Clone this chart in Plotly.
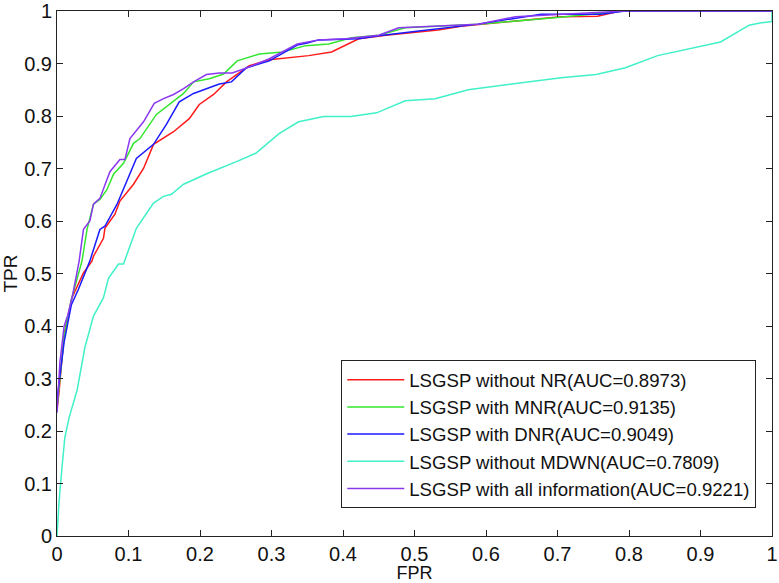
import plotly.graph_objects as go

# ---- data ----
names = [
    "LSGSP without NR(AUC=0.8973)",
    "LSGSP with MNR(AUC=0.9135)",
    "LSGSP with DNR(AUC=0.9049)",
    "LSGSP without MDWN(AUC=0.7809)",
    "LSGSP with all information(AUC=0.9221)",
]
colors = ["#ff1a1a", "#33e62e", "#1a1aff", "#40f0c8", "#8a38f0"]

fpr_nr = [0, 0.003, 0.01, 0.021, 0.037, 0.049, 0.051, 0.065, 0.067, 0.074, 0.081, 0.088,
          0.107, 0.121, 0.135, 0.163, 0.185, 0.199, 0.219, 0.237, 0.251, 0.269, 0.297,
          0.352, 0.384, 0.422, 0.460, 0.533, 0.565, 0.641, 0.705, 0.756, 0.788, 0.872, 1.0]
tpr_nr = [0.239, 0.277, 0.385, 0.454, 0.501, 0.524, 0.533, 0.567, 0.586, 0.600, 0.613, 0.638,
          0.670, 0.700, 0.746, 0.770, 0.795, 0.822, 0.841, 0.865, 0.879, 0.896, 0.907,
          0.915, 0.922, 0.947, 0.954, 0.964, 0.971, 0.981, 0.989, 0.990, 1.0, 1.0, 1.0]

fpr_mnr = [0, 0.004, 0.01, 0.02, 0.028, 0.035, 0.042, 0.051, 0.060, 0.070, 0.079, 0.093,
           0.107, 0.116, 0.139, 0.157, 0.177, 0.191, 0.213, 0.233, 0.252, 0.283, 0.315,
           0.348, 0.380, 0.412, 0.450, 0.487, 0.589, 0.696, 0.794, 0.891, 1.0]
tpr_mnr = [0.245, 0.30, 0.38, 0.45, 0.49, 0.524, 0.584, 0.632, 0.641, 0.660, 0.689, 0.710,
           0.748, 0.757, 0.803, 0.822, 0.843, 0.865, 0.871, 0.880, 0.905, 0.918, 0.922,
           0.934, 0.937, 0.949, 0.954, 0.968, 0.975, 0.987, 1.0, 1.0, 1.0]

fpr_dnr = [0, 0.004, 0.01, 0.02, 0.03, 0.046, 0.060, 0.067, 0.084, 0.111, 0.135, 0.153,
           0.171, 0.191, 0.205, 0.227, 0.244, 0.265, 0.297, 0.336, 0.350, 0.366, 0.422,
           0.450, 0.506, 0.589, 0.677, 0.760, 0.794, 1.0]
tpr_dnr = [0.26, 0.30, 0.37, 0.44, 0.47, 0.524, 0.584, 0.590, 0.632, 0.719, 0.746, 0.784,
           0.827, 0.843, 0.850, 0.861, 0.865, 0.892, 0.905, 0.935, 0.939, 0.945, 0.947,
           0.953, 0.962, 0.975, 0.994, 0.994, 1.0, 1.0]

fpr_mdwn = [0, 0.003, 0.007, 0.011, 0.017, 0.028, 0.039, 0.051, 0.065, 0.072, 0.086, 0.093,
            0.111, 0.123, 0.135, 0.149, 0.160, 0.177, 0.211, 0.251, 0.278, 0.311, 0.338,
            0.373, 0.411, 0.447, 0.487, 0.529, 0.575, 0.705, 0.754, 0.795, 0.840, 0.928,
            0.968, 0.983, 1.0, 1.0]
tpr_mdwn = [0.0, 0.068, 0.131, 0.188, 0.226, 0.277, 0.359, 0.419, 0.454, 0.491, 0.518, 0.518,
            0.586, 0.611, 0.634, 0.647, 0.651, 0.670, 0.691, 0.713, 0.729, 0.767, 0.789,
            0.799, 0.799, 0.806, 0.829, 0.833, 0.850, 0.873, 0.879, 0.892, 0.915, 0.941,
            0.973, 0.977, 0.98, 1.0]

fpr_all = [0, 0.004, 0.01, 0.015, 0.022, 0.031, 0.037, 0.046, 0.051, 0.060, 0.074, 0.088,
           0.095, 0.102, 0.121, 0.136, 0.149, 0.163, 0.177, 0.191, 0.209, 0.227, 0.245,
           0.266, 0.297, 0.336, 0.366, 0.404, 0.450, 0.478, 0.589, 0.641, 0.794, 1.0]
tpr_all = [0.235, 0.33, 0.40, 0.42, 0.46, 0.524, 0.584, 0.600, 0.632, 0.643, 0.694, 0.717,
           0.717, 0.757, 0.789, 0.824, 0.833, 0.841, 0.852, 0.865, 0.879, 0.882, 0.882,
           0.892, 0.909, 0.937, 0.945, 0.947, 0.954, 0.968, 0.975, 0.989, 1.0, 1.0]

xs = [fpr_nr, fpr_mnr, fpr_dnr, fpr_mdwn, fpr_all]
ys = [tpr_nr, tpr_mnr, tpr_dnr, tpr_mdwn, tpr_all]

tick_vals = [0, 0.1, 0.2, 0.3, 0.4, 0.5, 0.6, 0.7, 0.8, 0.9, 1]
tick_text = ["0", "0.1", "0.2", "0.3", "0.4", "0.5", "0.6", "0.7", "0.8", "0.9", "1"]

fig = go.Figure()
for x, y, n, c in zip(xs, ys, names, colors):
    fig.add_trace(go.Scatter(x=x, y=y, mode="lines", name=n,
                             line=dict(color=c, width=1.5)))

font_family = "Arial, Liberation Sans, sans-serif"
axis_common = dict(
    range=[0, 1], tickvals=tick_vals, ticktext=tick_text,
    ticks="inside", ticklen=6, tickwidth=1, tickcolor="#222",
    showline=True, linecolor="#222", linewidth=1, mirror="ticks",
    showgrid=False, zeroline=False, ticklabeloverflow="allow",
    tickfont=dict(family=font_family, size=20, color="#111"),
)
fig.update_xaxes(**axis_common, title=dict(text="FPR", standoff=6,
                 font=dict(family=font_family, size=18, color="#111")))
fig.update_yaxes(**axis_common, title=dict(text="TPR", standoff=4,
                 font=dict(family=font_family, size=19, color="#111")))

fig.update_layout(
    width=779, height=583,
    margin=dict(l=57, r=7, t=11, b=47, autoexpand=False),
    plot_bgcolor="white", paper_bgcolor="white",
    font=dict(family=font_family, size=19, color="#111"),
    legend=dict(x=0.978, xanchor="right", y=0.053, yanchor="bottom",
                bgcolor="white", bordercolor="#222", borderwidth=1,
                font=dict(family=font_family, size=18.6, color="#111"),
                tracegroupgap=0, itemwidth=57),
)

fig.write_html("out.html", config={"displayModeBar": False},
               post_script="document.body.style.margin='0';document.body.style.padding='0';")
